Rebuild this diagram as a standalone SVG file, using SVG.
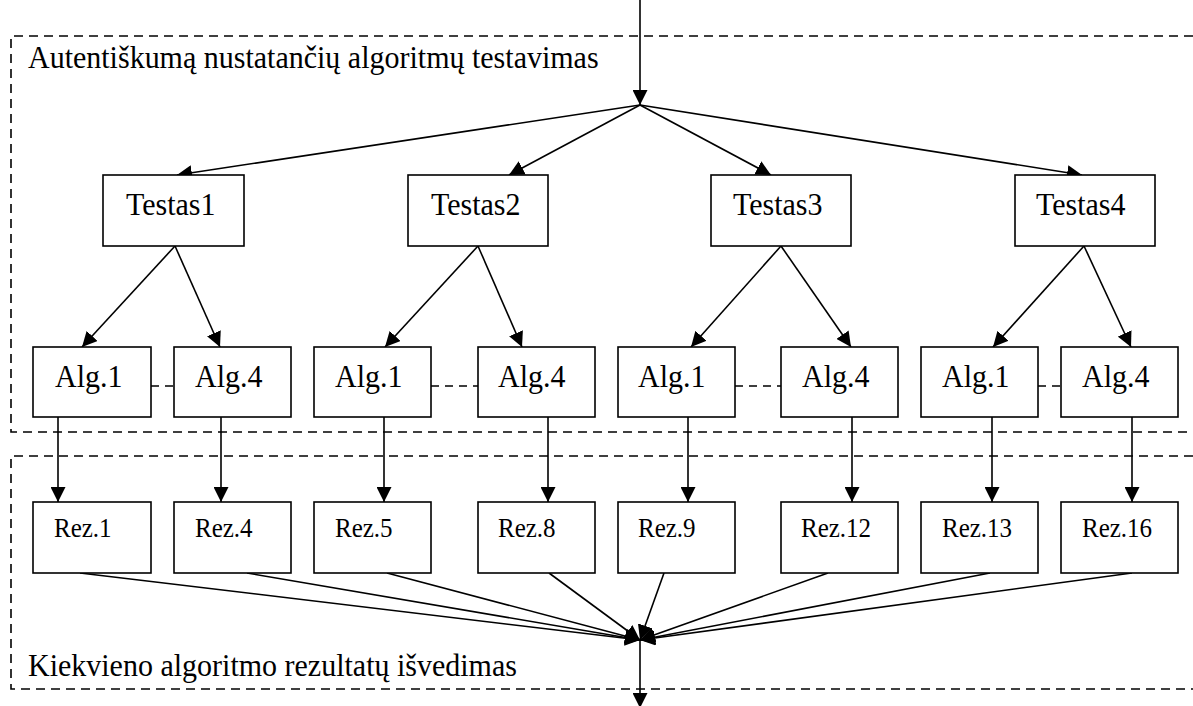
<svg xmlns="http://www.w3.org/2000/svg" width="1193" height="706" viewBox="0 0 1193 706">
  <style>
    .box { fill: #ffffff; stroke: #000000; stroke-width: 1.6; }
    .lbl { font-family: "Liberation Serif", "Times New Roman", serif; fill: #000000; }
    .big { font-size: 30px; }
    .small { font-size: 25px; }
    .frame { fill: none; stroke: #000000; stroke-width: 1.6; stroke-dasharray: 9 6; }
    .edge { fill: none; stroke: #000000; stroke-width: 1.6; marker-end: url(#arrow); }
    .link { fill: none; stroke: #000000; stroke-width: 1.6; stroke-dasharray: 8 6; }
  </style>
  <defs>
    <marker id="arrow" viewBox="0 0 10 10" refX="10" refY="5" markerWidth="15" markerHeight="15" markerUnits="userSpaceOnUse" orient="auto">
      <path d="M0,0 L10,5 L0,10 z" fill="#000000"/>
    </marker>
  </defs>
  <rect width="1193" height="706" fill="#ffffff"/>

  <!-- dashed stage frames (labels slightly stretched vertically, baseline kept) -->
  <g id="stages">
    <path class="frame" d="M1193,36 H11 V432 H1193"/>
    <text class="lbl big" x="28" y="68" transform="matrix(1 0 0 1.06 0 -4.08)">Autentiškumą nustatančių algoritmų testavimas</text>
    <path class="frame" d="M1193,456 H11 V689 H1193"/>
    <text class="lbl big" x="28" y="676" transform="matrix(1 0 0 1.06 0 -40.56)">Kiekvieno algoritmo rezultatų išvedimas</text>
  </g>

  <!-- connectors -->
  <g id="connectors">
    <line class="edge" x1="640" y1="0" x2="640" y2="105"/>
    <line class="edge" x1="640" y1="105" x2="177" y2="175"/>
    <line class="edge" x1="640" y1="105" x2="509" y2="175"/>
    <line class="edge" x1="640" y1="105" x2="771" y2="175"/>
    <line class="edge" x1="640" y1="105" x2="1082" y2="175"/>

    <line class="edge" x1="175" y1="246" x2="82" y2="347"/>
    <line class="edge" x1="175" y1="246" x2="220" y2="347"/>
    <line class="edge" x1="478" y1="246" x2="385" y2="347"/>
    <line class="edge" x1="478" y1="246" x2="522" y2="347"/>
    <line class="edge" x1="781" y1="246" x2="691" y2="347"/>
    <line class="edge" x1="781" y1="246" x2="851" y2="347"/>
    <line class="edge" x1="1084" y1="246" x2="993" y2="347"/>
    <line class="edge" x1="1084" y1="246" x2="1131" y2="347"/>

    <line class="link" x1="151" y1="386" x2="174" y2="386"/>
    <line class="link" x1="431" y1="386" x2="478" y2="386"/>
    <line class="link" x1="735" y1="386" x2="781" y2="386"/>
    <line class="link" x1="1038" y1="386" x2="1061" y2="386"/>

    <line class="edge" x1="58" y1="417" x2="58" y2="502"/>
    <line class="edge" x1="221" y1="417" x2="221" y2="502"/>
    <line class="edge" x1="384" y1="417" x2="384" y2="502"/>
    <line class="edge" x1="548" y1="417" x2="548" y2="502"/>
    <line class="edge" x1="688" y1="417" x2="688" y2="502"/>
    <line class="edge" x1="852" y1="417" x2="852" y2="502"/>
    <line class="edge" x1="992" y1="417" x2="992" y2="502"/>
    <line class="edge" x1="1132" y1="417" x2="1132" y2="502"/>

    <line class="edge" x1="80" y1="573" x2="640" y2="640"/>
    <line class="edge" x1="247" y1="573" x2="640" y2="640"/>
    <line class="edge" x1="387" y1="573" x2="640" y2="640"/>
    <line class="edge" x1="549" y1="573" x2="640" y2="640"/>
    <line class="edge" x1="664" y1="573" x2="640" y2="640"/>
    <line class="edge" x1="828" y1="573" x2="640" y2="640"/>
    <line class="edge" x1="990" y1="573" x2="640" y2="640"/>
    <line class="edge" x1="1132" y1="573" x2="640" y2="640"/>

    <line class="edge" x1="640" y1="640" x2="640" y2="708"/>
  </g>

  <!-- tests -->
  <g id="testas1"><rect class="box" x="103" y="175" width="141" height="71"/><text class="lbl big" x="126" y="215" transform="matrix(1 0 0 1.06 0 -12.9)">Testas1</text></g>
  <g id="testas2"><rect class="box" x="408" y="175" width="140" height="71"/><text class="lbl big" x="431" y="215" transform="matrix(1 0 0 1.06 0 -12.9)">Testas2</text></g>
  <g id="testas3"><rect class="box" x="711" y="175" width="140" height="71"/><text class="lbl big" x="733" y="215" transform="matrix(1 0 0 1.06 0 -12.9)">Testas3</text></g>
  <g id="testas4"><rect class="box" x="1015" y="175" width="140" height="71"/><text class="lbl big" x="1036" y="215" transform="matrix(1 0 0 1.06 0 -12.9)">Testas4</text></g>

  <!-- algorithms -->
  <g id="alg-t1-1"><rect class="box" x="33" y="347" width="118" height="70"/><text class="lbl big" x="55" y="387" transform="matrix(1 0 0 1.06 0 -23.22)">Alg.1</text></g>
  <g id="alg-t1-4"><rect class="box" x="174" y="347" width="117" height="70"/><text class="lbl big" x="195" y="387" transform="matrix(1 0 0 1.06 0 -23.22)">Alg.4</text></g>
  <g id="alg-t2-1"><rect class="box" x="314" y="347" width="117" height="70"/><text class="lbl big" x="335" y="387" transform="matrix(1 0 0 1.06 0 -23.22)">Alg.1</text></g>
  <g id="alg-t2-4"><rect class="box" x="478" y="347" width="117" height="70"/><text class="lbl big" x="498" y="387" transform="matrix(1 0 0 1.06 0 -23.22)">Alg.4</text></g>
  <g id="alg-t3-1"><rect class="box" x="618" y="347" width="117" height="70"/><text class="lbl big" x="638" y="387" transform="matrix(1 0 0 1.06 0 -23.22)">Alg.1</text></g>
  <g id="alg-t3-4"><rect class="box" x="781" y="347" width="117" height="70"/><text class="lbl big" x="802" y="387" transform="matrix(1 0 0 1.06 0 -23.22)">Alg.4</text></g>
  <g id="alg-t4-1"><rect class="box" x="921" y="347" width="117" height="70"/><text class="lbl big" x="942" y="387" transform="matrix(1 0 0 1.06 0 -23.22)">Alg.1</text></g>
  <g id="alg-t4-4"><rect class="box" x="1061" y="347" width="117" height="70"/><text class="lbl big" x="1082" y="387" transform="matrix(1 0 0 1.06 0 -23.22)">Alg.4</text></g>

  <!-- results -->
  <g id="rez1"><rect class="box" x="33" y="502" width="118" height="71"/><text class="lbl small" x="54" y="537" transform="matrix(1 0 0 1.06 0 -32.22)">Rez.1</text></g>
  <g id="rez4"><rect class="box" x="174" y="502" width="117" height="71"/><text class="lbl small" x="195" y="537" transform="matrix(1 0 0 1.06 0 -32.22)">Rez.4</text></g>
  <g id="rez5"><rect class="box" x="314" y="502" width="117" height="71"/><text class="lbl small" x="335" y="537" transform="matrix(1 0 0 1.06 0 -32.22)">Rez.5</text></g>
  <g id="rez8"><rect class="box" x="478" y="502" width="117" height="71"/><text class="lbl small" x="498" y="537" transform="matrix(1 0 0 1.06 0 -32.22)">Rez.8</text></g>
  <g id="rez9"><rect class="box" x="618" y="502" width="117" height="71"/><text class="lbl small" x="638" y="537" transform="matrix(1 0 0 1.06 0 -32.22)">Rez.9</text></g>
  <g id="rez12"><rect class="box" x="781" y="502" width="117" height="71"/><text class="lbl small" x="801" y="537" transform="matrix(1 0 0 1.06 0 -32.22)">Rez.12</text></g>
  <g id="rez13"><rect class="box" x="921" y="502" width="117" height="71"/><text class="lbl small" x="942" y="537" transform="matrix(1 0 0 1.06 0 -32.22)">Rez.13</text></g>
  <g id="rez16"><rect class="box" x="1061" y="502" width="117" height="71"/><text class="lbl small" x="1082" y="537" transform="matrix(1 0 0 1.06 0 -32.22)">Rez.16</text></g>
</svg>
